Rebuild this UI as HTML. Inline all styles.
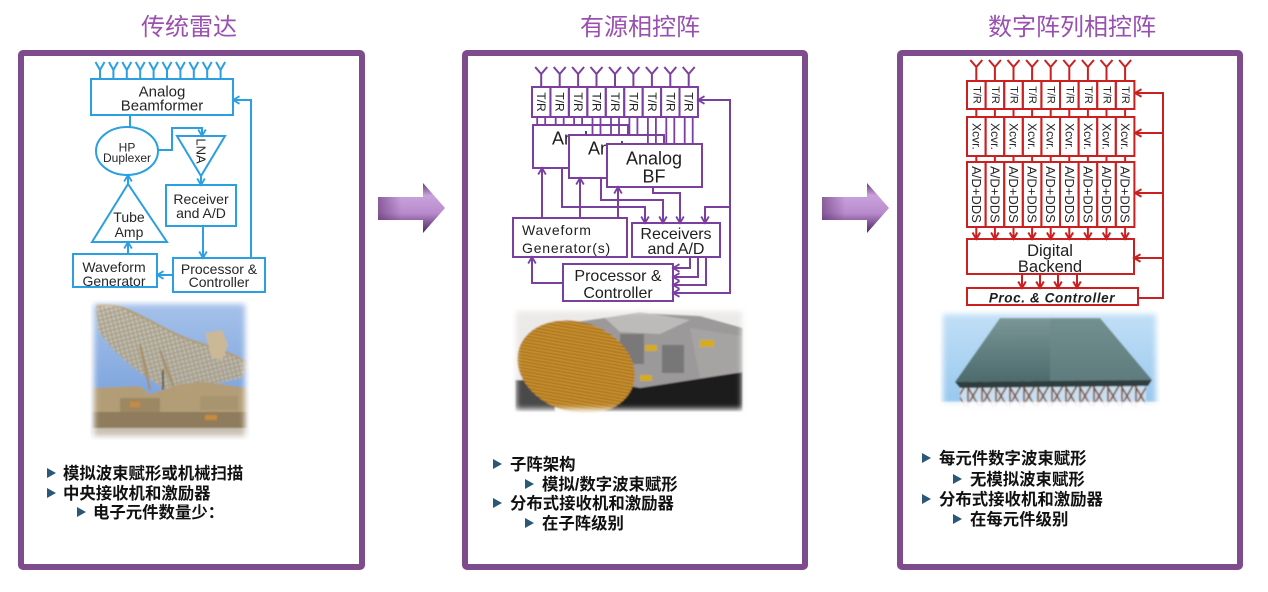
<!DOCTYPE html>
<html><head><meta charset="utf-8">
<style>
html,body{margin:0;padding:0;background:#fff;}
svg{display:block;}
.lat{font-family:"Liberation Sans","Noto Sans CJK SC",sans-serif;}
.cjk{font-family:"Liberation Sans","Noto Sans CJK SC",sans-serif;}
</style></head>
<body>
<svg width="1268" height="592" viewBox="0 0 1268 592" xmlns="http://www.w3.org/2000/svg">
<defs>
  <marker id="mb" markerUnits="userSpaceOnUse" markerWidth="10" markerHeight="10" refX="8.5" refY="5" orient="auto" viewBox="0 0 10 10"><path d="M2,1.2 L8.5,5 L2,8.8" fill="none" stroke="#2a9fe2" stroke-width="1.8"/></marker>
  <marker id="mp" markerUnits="userSpaceOnUse" markerWidth="10" markerHeight="10" refX="8.5" refY="5" orient="auto" viewBox="0 0 10 10"><path d="M2,1.2 L8.5,5 L2,8.8" fill="none" stroke="#7b3fa0" stroke-width="1.8"/></marker>
  <marker id="mr" markerUnits="userSpaceOnUse" markerWidth="10" markerHeight="10" refX="8.5" refY="5" orient="auto" viewBox="0 0 10 10"><path d="M2,1.2 L8.5,5 L2,8.8" fill="none" stroke="#cc1f1f" stroke-width="2"/></marker>
  <linearGradient id="arrowG" x1="0" y1="0" x2="0" y2="1">
    <stop offset="0" stop-color="#6a3a7c"/>
    <stop offset="0.25" stop-color="#c9a2dc"/>
    <stop offset="0.6" stop-color="#b98ccd"/>
    <stop offset="1" stop-color="#4e2460"/>
  </linearGradient>
  <linearGradient id="arrowH" x1="0" y1="0" x2="1" y2="0">
    <stop offset="0" stop-color="#5a2a6a" stop-opacity="0.55"/>
    <stop offset="0.35" stop-color="#5a2a6a" stop-opacity="0"/>
    <stop offset="1" stop-color="#5a2a6a" stop-opacity="0"/>
  </linearGradient>
  <filter id="soft" x="-20%" y="-20%" width="140%" height="140%"><feGaussianBlur stdDeviation="3"/></filter>
  <filter id="blur1"><feGaussianBlur stdDeviation="0.8"/></filter>
  <mask id="m1" maskUnits="userSpaceOnUse" x="0" y="0" width="1268" height="592"><rect x="94" y="304" width="151" height="132" fill="#fff" filter="url(#soft)"/></mask>
  <mask id="m2" maskUnits="userSpaceOnUse" x="0" y="0" width="1268" height="592"><rect x="516" y="311" width="226" height="98" fill="#fff" filter="url(#soft)"/></mask>
  <mask id="m3" maskUnits="userSpaceOnUse" x="0" y="0" width="1268" height="592"><rect x="943" y="314" width="213" height="90" fill="#fff" filter="url(#soft)"/></mask>
  <linearGradient id="sky1" x1="0" y1="0" x2="0" y2="1"><stop offset="0" stop-color="#a7c2ea"/><stop offset="1" stop-color="#6b97d6"/></linearGradient>
  <linearGradient id="sky3" x1="0" y1="0" x2="0" y2="1"><stop offset="0" stop-color="#c3e0f6"/><stop offset="1" stop-color="#95c6ee"/></linearGradient>
  <linearGradient id="roof" x1="0" y1="0" x2="0" y2="1"><stop offset="0" stop-color="#7a9696"/><stop offset="1" stop-color="#4c6a6c"/></linearGradient>
  <pattern id="lattice" width="6" height="6" patternUnits="userSpaceOnUse" patternTransform="rotate(30)">
    <rect width="6" height="6" fill="#d8c9a8" fill-opacity="0.5"/>
    <path d="M0,0 L6,6 M6,0 L0,6" stroke="#b09866" stroke-width="1.2"/>
  </pattern>
  <pattern id="gold" width="4" height="3.2" patternUnits="userSpaceOnUse" patternTransform="rotate(-8)">
    <rect width="4" height="3.2" fill="#cc932e"/>
    <rect y="2.2" width="4" height="1" fill="#8c5c16"/>
  </pattern>
  <pattern id="truss" width="14" height="24" patternUnits="userSpaceOnUse">
    <rect width="14" height="24" fill="#c8dff0"/>
    <path d="M0,0 L14,24 M14,0 L0,24 M2,0 V24" stroke="#7d4a2e" stroke-width="1.6"/>
  </pattern>
</defs>

<!-- Titles -->
<text x="189" y="35" text-anchor="middle" font-size="24" fill="#9a4fb1" class="cjk">传统雷达</text>
<text x="640" y="35" text-anchor="middle" font-size="24" fill="#9a4fb1" class="cjk">有源相控阵</text>
<text x="1072" y="35" text-anchor="middle" font-size="24" fill="#9a4fb1" class="cjk">数字阵列相控阵</text>

<!-- Panels -->
<rect x="21" y="53" width="341" height="514" rx="2" fill="#fff" stroke="#7e4b8d" stroke-width="6"/>
<rect x="465" y="53" width="340" height="514" rx="2" fill="#fff" stroke="#7e4b8d" stroke-width="6"/>
<rect x="900" y="53" width="340" height="514" rx="2" fill="#fff" stroke="#7e4b8d" stroke-width="6"/>

<!-- Big arrows -->
<g>
  <path d="M378,197 H423 V183 L445,208 L423,233 V220 H378 Z" fill="url(#arrowG)"/>
  <path d="M378,197 H423 V183 L445,208 L423,233 V220 H378 Z" fill="url(#arrowH)"/>
  <path d="M822,197 H867 V183 L889,208 L867,233 V220 H822 Z" fill="url(#arrowG)"/>
  <path d="M822,197 H867 V183 L889,208 L867,233 V220 H822 Z" fill="url(#arrowH)"/>
</g>

<!-- ============ Panel 1 diagram (blue) ============ -->
<g fill="none" stroke="#2a9fe2" stroke-width="2">
  <path d="M95.5,62 L100,70 L104.5,62 M100,70 V79
           M108.9,62 L113.4,70 L117.9,62 M113.4,70 V79
           M122.3,62 L126.8,70 L131.3,62 M126.8,70 V79
           M135.7,62 L140.2,70 L144.7,62 M140.2,70 V79
           M149.1,62 L153.6,70 L158.1,62 M153.6,70 V79
           M162.5,62 L167,70 L171.5,62 M167,70 V79
           M175.9,62 L180.4,70 L184.9,62 M180.4,70 V79
           M189.3,62 L193.8,70 L198.3,62 M193.8,70 V79
           M202.7,62 L207.2,70 L211.7,62 M207.2,70 V79
           M216.1,62 L220.6,70 L225.1,62 M220.6,70 V79"/>
  <rect x="91" y="79" width="142" height="36"/>
  <ellipse cx="127" cy="151" rx="31" ry="24"/>
  <polygon points="177,136 225,136 201,176"/>
  <rect x="166" y="185" width="70" height="41"/>
  <polygon points="128,184 92,242 167,242"/>
  <rect x="73" y="254" width="84" height="33"/>
  <rect x="173" y="258" width="92" height="34"/>
  <path d="M130,115 V127"/>
  <path d="M158,150 H172 V128 H202 V136" marker-end="url(#mb)"/>
  <path d="M201,176 V185" marker-end="url(#mb)"/>
  <path d="M203,226 V258" marker-end="url(#mb)"/>
  <path d="M251,258 V100 H233" marker-end="url(#mb)"/>
  <path d="M173,275 H157" marker-end="url(#mb)"/>
  <path d="M128,254 V242" marker-end="url(#mb)"/>
  <path d="M128,184 V175" marker-end="url(#mb)"/>
</g>
<g class="lat" fill="#262626" text-anchor="middle">
  <text x="162" y="96.5" font-size="15">Analog</text>
  <text x="162" y="110.5" font-size="15">Beamformer</text>
  <text x="127" y="151.3" font-size="12">HP</text>
  <text x="127" y="162" font-size="12">Duplexer</text>
  <text transform="translate(201,151) rotate(90)" font-size="13" dominant-baseline="central">LNA</text>
  <text x="201" y="204" font-size="14">Receiver</text>
  <text x="201" y="218" font-size="14">and A/D</text>
  <text x="129" y="222" font-size="14">Tube</text>
  <text x="129" y="237" font-size="14">Amp</text>
  <text x="114" y="272" font-size="14">Waveform</text>
  <text x="114" y="286" font-size="14">Generator</text>
  <text x="219" y="274" font-size="14">Processor &amp;</text>
  <text x="219" y="287" font-size="14">Controller</text>
</g>

<!-- Photo 1 -->
<g mask="url(#m1)">
  <g filter="url(#blur1)">
    <rect x="90" y="300" width="160" height="140" fill="url(#sky1)"/>
    <path d="M96,306 C122,298 152,326 190,340 C215,348 236,354 248,364 L242,378 C214,384 192,390 170,392 C146,378 116,358 98,330 Z" fill="url(#lattice)"/>
    <path d="M96,306 C122,298 152,326 190,340 C215,348 236,354 248,364" fill="none" stroke="#b39c72" stroke-width="2"/>
    <path d="M160,350 L175,392 M140,345 L150,390" stroke="#a48d66" stroke-width="2"/>
    <path d="M205,333 L222,330 L228,345 L222,360 L212,358 Z" fill="#cbb897"/>
    <path d="M163,370 V420" stroke="#4a3a2a" stroke-width="1.5"/>
    <path d="M92,388 L140,386 L150,394 L180,384 L204,382 L248,388 V440 H92 Z" fill="#b29d77"/>
    <rect x="92" y="412" width="156" height="28" fill="#8e7c5c"/>
    <rect x="120" y="398" width="40" height="14" fill="#9c8864"/>
    <rect x="200" y="396" width="38" height="14" fill="#a8946e"/>
    <rect x="130" y="402" width="10" height="5" fill="#c98a3c"/>
    <rect x="205" y="415" width="12" height="5" fill="#c98a3c"/>
    <rect x="92" y="428" width="156" height="12" fill="#c8c0b2"/>
  </g>
</g>

<!-- ============ Panel 2 diagram (purple) ============ -->
<g fill="none" stroke="#7b3fa0" stroke-width="2">
  <path d="M535.2,67 L541.2,74 L547.2,67 M541.2,74 V87
           M553.7,67 L559.7,74 L565.7,67 M559.7,74 V87
           M572.1,67 L578.1,74 L584.1,67 M578.1,74 V87
           M590.5,67 L596.5,74 L602.5,67 M596.5,74 V87
           M609,67 L615,74 L621,67 M615,74 V87
           M627.4,67 L633.4,74 L639.4,67 M633.4,74 V87
           M645.9,67 L651.9,74 L657.9,67 M651.9,74 V87
           M664.3,67 L670.3,74 L676.3,67 M670.3,74 V87
           M682.7,67 L688.7,74 L694.7,67 M688.7,74 V87"/>
  <rect x="532" y="87" width="18.44" height="30"/>
  <rect x="550.44" y="87" width="18.44" height="30"/>
  <rect x="568.88" y="87" width="18.44" height="30"/>
  <rect x="587.32" y="87" width="18.44" height="30"/>
  <rect x="605.76" y="87" width="18.44" height="30"/>
  <rect x="624.2" y="87" width="18.44" height="30"/>
  <rect x="642.64" y="87" width="18.44" height="30"/>
  <rect x="661.08" y="87" width="18.44" height="30"/>
  <rect x="679.52" y="87" width="18.44" height="30"/>
</g>
<g class="lat" font-size="18" fill="#1e1e1e" text-anchor="middle">
  <rect x="533" y="125" width="95" height="43" fill="#fff" stroke="#7b3fa0" stroke-width="2"/>
  <text x="580" y="144.5">Analog</text>
  <rect x="569" y="135" width="95" height="43" fill="#fff" stroke="#7b3fa0" stroke-width="2"/>
  <text x="616" y="154.5">Analog</text>
  <text x="616" y="172">BF</text>
  <rect x="607" y="144" width="95" height="43" fill="#fff" stroke="#7b3fa0" stroke-width="2"/>
  <text x="654" y="164.5">Analog</text>
  <text x="654" y="182.5">BF</text>
</g>
<g fill="none" stroke="#7b3fa0" stroke-width="1.8">
  <path d="M537.2,117 V125 M545.2,117 V125 M555.7,117 V125 M563.7,117 V125 M574.1,117 V125 M582.1,117 V125
           M592.5,117 V135 M600.5,117 V135 M611,117 V135 M619,117 V135 M629.4,117 V135 M637.4,117 V135
           M647.9,117 V144 M655.9,117 V144 M666.3,117 V144 M674.3,117 V144 M684.7,117 V144 M692.7,117 V144"/>
</g>
<g fill="none" stroke="#7b3fa0" stroke-width="2">
  <rect x="513" y="218" width="114" height="39" fill="#fff"/>
  <rect x="632" y="223" width="88" height="34" fill="#fff"/>
  <rect x="563" y="264" width="110" height="37" fill="#fff"/>
  <path d="M542,218 V168" marker-end="url(#mp)"/>
  <path d="M580,218 V178" marker-end="url(#mp)"/>
  <path d="M618,218 V187" marker-end="url(#mp)"/>
  <path d="M562,168 V207 H645 V223" marker-end="url(#mp)"/>
  <path d="M601,178 V200 H663 V223" marker-end="url(#mp)"/>
  <path d="M653,187 V193 H680 V223" marker-end="url(#mp)"/>
  <path d="M673,293 H730 V100 H698" marker-end="url(#mp)"/>
  <path d="M730,293 H673" marker-end="url(#mp)"/>
  <path d="M730,207 H705 V223" marker-end="url(#mp)"/>
  <path d="M690,257 V268 H673" marker-end="url(#mp)"/>
  <path d="M698,257 V277 H673" marker-end="url(#mp)"/>
  <path d="M706,257 V285 H673" marker-end="url(#mp)"/>
  <path d="M563,283 H532 V257" marker-end="url(#mp)"/>
</g>
<g class="lat" fill="#1e1e1e">
  <g font-size="12" text-anchor="middle" dominant-baseline="central">
    <text transform="translate(541.2,102) rotate(90)">T/R</text>
    <text transform="translate(559.7,102) rotate(90)">T/R</text>
    <text transform="translate(578.1,102) rotate(90)">T/R</text>
    <text transform="translate(596.5,102) rotate(90)">T/R</text>
    <text transform="translate(615,102) rotate(90)">T/R</text>
    <text transform="translate(633.4,102) rotate(90)">T/R</text>
    <text transform="translate(651.9,102) rotate(90)">T/R</text>
    <text transform="translate(670.3,102) rotate(90)">T/R</text>
    <text transform="translate(688.7,102) rotate(90)">T/R</text>
  </g>
  <text x="522" y="235" font-size="14" letter-spacing="0.8">Waveform</text>
  <text x="522" y="253" font-size="14" letter-spacing="0.8">Generator(s)</text>
  <text x="676" y="239" font-size="16" text-anchor="middle">Receivers</text>
  <text x="676" y="254" font-size="16" text-anchor="middle">and A/D</text>
  <text x="618" y="281" font-size="16" text-anchor="middle">Processor &amp;</text>
  <text x="618" y="298" font-size="16" text-anchor="middle">Controller</text>
</g>

<!-- Photo 2 -->
<g mask="url(#m2)">
  <g filter="url(#blur1)">
    <rect x="512" y="306" width="236" height="108" fill="#eceae8"/>
    <polygon points="600,385 743,368 743,412 585,412" fill="#1f1e1e"/>
    <polygon points="575,322 640,313 700,316 743,328 743,372 640,388 610,382 590,360" fill="#9b9999"/>
    <polygon points="605,318 640,312 690,320 660,334 620,332" fill="#bdbbb9"/>
    <polygon points="690,328 743,336 743,372 700,378" fill="#a6a4a3"/>
    <rect x="620" y="334" width="24" height="30" fill="#7a7878"/>
    <rect x="662" y="345" width="22" height="28" fill="#777"/>
    <rect x="645" y="345" width="12" height="6" fill="#d4ac1e"/>
    <rect x="700" y="340" width="14" height="7" fill="#d4ac1e"/>
    <rect x="640" y="375" width="12" height="6" fill="#d4ac1e"/>
    <rect x="515" y="380" width="40" height="32" fill="#4a4848"/>
    <ellipse cx="576" cy="367" rx="60" ry="45" transform="rotate(18 576 367)" fill="url(#gold)"/>
  </g>
</g>

<!-- ============ Panel 3 diagram (red) ============ -->
<g fill="none" stroke="#cc1f1f" stroke-width="2">
  <path d="M970.3,60 L976.3,67 L982.3,60 M976.3,67 V81
           M988.9,60 L994.9,67 L1000.9,60 M994.9,67 V81
           M1007.5,60 L1013.5,67 L1019.5,60 M1013.5,67 V81
           M1026.1,60 L1032.1,67 L1038.1,60 M1032.1,67 V81
           M1044.7,60 L1050.7,67 L1056.7,60 M1050.7,67 V81
           M1063.3,60 L1069.3,67 L1075.3,60 M1069.3,67 V81
           M1081.9,60 L1087.9,67 L1093.9,60 M1087.9,67 V81
           M1100.5,60 L1106.5,67 L1112.5,60 M1106.5,67 V81
           M1119.1,60 L1125.1,67 L1131.1,60 M1125.1,67 V81"/>
  <g>
    <rect x="967" y="81" width="18.6" height="28"/><rect x="985.6" y="81" width="18.6" height="28"/><rect x="1004.2" y="81" width="18.6" height="28"/>
    <rect x="1022.8" y="81" width="18.6" height="28"/><rect x="1041.4" y="81" width="18.6" height="28"/><rect x="1060" y="81" width="18.6" height="28"/>
    <rect x="1078.6" y="81" width="18.6" height="28"/><rect x="1097.2" y="81" width="18.6" height="28"/><rect x="1115.8" y="81" width="18.6" height="28"/>
  </g>
  <g>
    <rect x="967" y="117" width="18.6" height="39"/><rect x="985.6" y="117" width="18.6" height="39"/><rect x="1004.2" y="117" width="18.6" height="39"/>
    <rect x="1022.8" y="117" width="18.6" height="39"/><rect x="1041.4" y="117" width="18.6" height="39"/><rect x="1060" y="117" width="18.6" height="39"/>
    <rect x="1078.6" y="117" width="18.6" height="39"/><rect x="1097.2" y="117" width="18.6" height="39"/><rect x="1115.8" y="117" width="18.6" height="39"/>
  </g>
  <g>
    <rect x="967" y="162" width="18.6" height="65"/><rect x="985.6" y="162" width="18.6" height="65"/><rect x="1004.2" y="162" width="18.6" height="65"/>
    <rect x="1022.8" y="162" width="18.6" height="65"/><rect x="1041.4" y="162" width="18.6" height="65"/><rect x="1060" y="162" width="18.6" height="65"/>
    <rect x="1078.6" y="162" width="18.6" height="65"/><rect x="1097.2" y="162" width="18.6" height="65"/><rect x="1115.8" y="162" width="18.6" height="65"/>
  </g>
  <path d="M976.3,109 V117 M994.9,109 V117 M1013.5,109 V117 M1032.1,109 V117 M1050.7,109 V117 M1069.3,109 V117 M1087.9,109 V117 M1106.5,109 V117 M1125.1,109 V117
           M976.3,156 V162 M994.9,156 V162 M1013.5,156 V162 M1032.1,156 V162 M1050.7,156 V162 M1069.3,156 V162 M1087.9,156 V162 M1106.5,156 V162 M1125.1,156 V162"/>
  <path d="M976.3,227 V239" marker-end="url(#mr)"/>
  <path d="M994.9,227 V239" marker-end="url(#mr)"/>
  <path d="M1013.5,227 V239" marker-end="url(#mr)"/>
  <path d="M1032.1,227 V239" marker-end="url(#mr)"/>
  <path d="M1050.7,227 V239" marker-end="url(#mr)"/>
  <path d="M1069.3,227 V239" marker-end="url(#mr)"/>
  <path d="M1087.9,227 V239" marker-end="url(#mr)"/>
  <path d="M1106.5,227 V239" marker-end="url(#mr)"/>
  <path d="M1125.1,227 V239" marker-end="url(#mr)"/>
  <rect x="967" y="239" width="167" height="35"/>
  <path d="M1022,274 V288" marker-end="url(#mr)"/>
  <path d="M1040,274 V288" marker-end="url(#mr)"/>
  <path d="M1058,274 V288" marker-end="url(#mr)"/>
  <path d="M1077,274 V288" marker-end="url(#mr)"/>
  <rect x="967" y="288" width="171" height="17"/>
  <path d="M1138,298 H1163 V93 H1135" marker-end="url(#mr)"/>
  <path d="M1163,133 H1135" marker-end="url(#mr)"/>
  <path d="M1163,193 H1135" marker-end="url(#mr)"/>
  <path d="M1163,258 H1134" marker-end="url(#mr)"/>
</g>
<g class="lat" fill="#262626" text-anchor="middle" dominant-baseline="central">
  <g font-size="11">
    <text transform="translate(976.3,95) rotate(90)">T/R</text>
    <text transform="translate(994.9,95) rotate(90)">T/R</text>
    <text transform="translate(1013.5,95) rotate(90)">T/R</text>
    <text transform="translate(1032.1,95) rotate(90)">T/R</text>
    <text transform="translate(1050.7,95) rotate(90)">T/R</text>
    <text transform="translate(1069.3,95) rotate(90)">T/R</text>
    <text transform="translate(1087.9,95) rotate(90)">T/R</text>
    <text transform="translate(1106.5,95) rotate(90)">T/R</text>
    <text transform="translate(1125.1,95) rotate(90)">T/R</text>
  </g>
  <g font-size="12">
    <text transform="translate(976.3,136.5) rotate(90)">Xcvr.</text>
    <text transform="translate(994.9,136.5) rotate(90)">Xcvr.</text>
    <text transform="translate(1013.5,136.5) rotate(90)">Xcvr.</text>
    <text transform="translate(1032.1,136.5) rotate(90)">Xcvr.</text>
    <text transform="translate(1050.7,136.5) rotate(90)">Xcvr.</text>
    <text transform="translate(1069.3,136.5) rotate(90)">Xcvr.</text>
    <text transform="translate(1087.9,136.5) rotate(90)">Xcvr.</text>
    <text transform="translate(1106.5,136.5) rotate(90)">Xcvr.</text>
    <text transform="translate(1125.1,136.5) rotate(90)">Xcvr.</text>
  </g>
  <g font-size="13">
    <text transform="translate(976.3,194.5) rotate(90)">A/D+DDS</text>
    <text transform="translate(994.9,194.5) rotate(90)">A/D+DDS</text>
    <text transform="translate(1013.5,194.5) rotate(90)">A/D+DDS</text>
    <text transform="translate(1032.1,194.5) rotate(90)">A/D+DDS</text>
    <text transform="translate(1050.7,194.5) rotate(90)">A/D+DDS</text>
    <text transform="translate(1069.3,194.5) rotate(90)">A/D+DDS</text>
    <text transform="translate(1087.9,194.5) rotate(90)">A/D+DDS</text>
    <text transform="translate(1106.5,194.5) rotate(90)">A/D+DDS</text>
    <text transform="translate(1125.1,194.5) rotate(90)">A/D+DDS</text>
  </g>
</g>
<g class="lat" fill="#1e1e1e" text-anchor="middle">
  <text x="1050" y="256" font-size="16.5">Digital</text>
  <text x="1050" y="272" font-size="16.5">Backend</text>
  <text x="1052" y="302.5" font-size="13.5" font-style="italic" font-weight="bold" letter-spacing="0.6">Proc. &amp; Controller</text>
</g>

<!-- Photo 3 -->
<g mask="url(#m3)">
  <g filter="url(#blur1)">
    <rect x="940" y="310" width="220" height="100" fill="url(#sky3)"/>
    <rect x="960" y="380" width="186" height="30" fill="url(#truss)"/>
    <polygon points="1000,318 1100,318 1152,380 955,382" fill="url(#roof)"/>
    <polygon points="1050,318 1100,318 1152,380 1050,381" fill="#6d8b8b" fill-opacity="0.55"/>
    <polygon points="955,382 1152,380 1148,386 960,388" fill="#2d3c3d"/>
    <rect x="940" y="402" width="220" height="8" fill="#ffffff" fill-opacity="0.8"/>
  </g>
</g>

<!-- ============ Bullets ============ -->
<g fill="#2a5878">
  <polygon points="47,468 56,473 47,478"/>
  <polygon points="47,488 56,493 47,498"/>
  <polygon points="77,507 86,512 77,517"/>

  <polygon points="493,459 502,464 493,469"/>
  <polygon points="525,479 534,484 525,489"/>
  <polygon points="493,498 502,503 493,508"/>
  <polygon points="525,518 534,523 525,528"/>

  <polygon points="922,453 931,458 922,463"/>
  <polygon points="953,474 962,479 953,484"/>
  <polygon points="922,494 931,499 922,504"/>
  <polygon points="953,514 962,519 953,524"/>
</g>
<g class="cjk" font-size="16.4" font-weight="bold" fill="#111">
  <text x="63" y="479">模拟波束赋形或机械扫描</text>
  <text x="63" y="499">中央接收机和激励器</text>
  <text x="93" y="518">电子元件数量少：</text>

  <text x="510" y="470">子阵架构</text>
  <text x="542" y="490">模拟/数字波束赋形</text>
  <text x="510" y="509">分布式接收机和激励器</text>
  <text x="542" y="529">在子阵级别</text>

  <text x="939" y="464">每元件数字波束赋形</text>
  <text x="970" y="485">无模拟波束赋形</text>
  <text x="939" y="505">分布式接收机和激励器</text>
  <text x="970" y="525">在每元件级别</text>
</g>
</svg>
</body></html>
